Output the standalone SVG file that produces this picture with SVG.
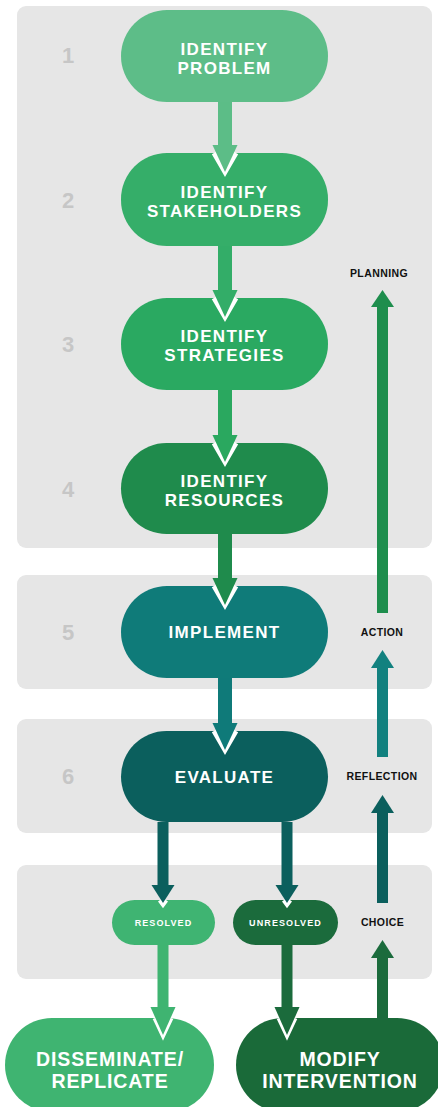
<svg xmlns="http://www.w3.org/2000/svg" width="438" height="1107" viewBox="0 0 438 1107">
<style>
.panel{fill:#e6e6e6}
.num{font-family:"Liberation Sans",Arial,sans-serif;font-weight:bold;font-size:22px;fill:#c6c6c6;text-anchor:middle}
.nt{font-family:"Liberation Sans",Arial,sans-serif;font-weight:bold;font-size:17px;fill:#fff;text-anchor:middle;letter-spacing:1.3px}
.bt{font-family:"Liberation Sans",Arial,sans-serif;font-weight:bold;font-size:19.5px;fill:#fff;text-anchor:middle;letter-spacing:0.9px}
.st{font-family:"Liberation Sans",Arial,sans-serif;font-weight:bold;font-size:9px;fill:#fff;text-anchor:middle;letter-spacing:1.1px}
.lab{font-family:"Liberation Sans",Arial,sans-serif;font-weight:bold;font-size:10.5px;fill:#111;text-anchor:middle;letter-spacing:0.4px}
.wo{fill:none;stroke:#fff;stroke-width:5;stroke-linejoin:miter}
</style>
<rect width="438" height="1107" fill="#fff"/>
<g id="panels">
<rect class="panel" x="17" y="6" width="415" height="542" rx="9"/>
<rect class="panel" x="17" y="575" width="415" height="114" rx="9"/>
<rect class="panel" x="17" y="719" width="415" height="114" rx="9"/>
<rect class="panel" x="17" y="865" width="415" height="114" rx="9"/>
</g>
<g id="numbers">
<text class="num" x="68" y="63">1</text>
<text class="num" x="68" y="208">2</text>
<text class="num" x="68" y="352">3</text>
<text class="num" x="68" y="497">4</text>
<text class="num" x="68" y="640">5</text>
<text class="num" x="68" y="784">6</text>
</g>
<g id="labels">
<text class="lab" x="379" y="277">PLANNING</text>
<text class="lab" x="382" y="636">ACTION</text>
<text class="lab" x="382" y="780">REFLECTION</text>
<text class="lab" x="382.5" y="926">CHOICE</text>
</g>
<g id="node-problem">
<rect x="121" y="10" width="207" height="92" rx="46" fill="#5dbd88"/>
<text class="nt" x="224.5" y="55">IDENTIFY</text>
<text class="nt" x="224.5" y="74">PROBLEM</text>
</g>
<g id="node-stakeholders">
<rect x="121" y="153" width="207" height="93" rx="46" fill="#35ae69"/>
<text class="nt" x="224.5" y="198">IDENTIFY</text>
<text class="nt" x="224.5" y="217">STAKEHOLDERS</text>
</g>
<g id="node-strategies">
<rect x="121" y="298" width="207" height="92" rx="46" fill="#2aa961"/>
<text class="nt" x="224.5" y="342">IDENTIFY</text>
<text class="nt" x="224.5" y="361">STRATEGIES</text>
</g>
<g id="node-resources">
<rect x="121" y="443" width="207" height="91" rx="45.5" fill="#1f8b4c"/>
<text class="nt" x="224.5" y="487">IDENTIFY</text>
<text class="nt" x="224.5" y="506">RESOURCES</text>
</g>
<g id="node-implement">
<rect x="121" y="586" width="207" height="92" rx="46" fill="#0f7b79"/>
<text class="nt" x="224.5" y="638">IMPLEMENT</text>
</g>
<g id="node-evaluate">
<rect x="121" y="731" width="207" height="91" rx="45.5" fill="#0b5f5d"/>
<text class="nt" x="224.5" y="783">EVALUATE</text>
</g>
<g id="node-resolved">
<rect x="112" y="900" width="103" height="45" rx="22.5" fill="#3fb472"/>
<text class="st" x="163.5" y="926">RESOLVED</text>
</g>
<g id="node-unresolved">
<rect x="233" y="900" width="105" height="45" rx="22.5" fill="#1b6b3c"/>
<text class="st" x="285.5" y="926">UNRESOLVED</text>
</g>
<g id="node-disseminate">
<rect x="5" y="1018" width="209" height="94" rx="47" fill="#3fb471"/>
<text class="bt" x="110" y="1066">DISSEMINATE/</text>
<text class="bt" x="110" y="1088">REPLICATE</text>
</g>
<g id="node-modify">
<rect x="236" y="1018" width="208" height="94" rx="47" fill="#1a6a39"/>
<text class="bt" x="340" y="1066">MODIFY</text>
<text class="bt" x="340" y="1088">INTERVENTION</text>
</g>
<g id="connectors">
<rect x="218" y="102" width="14" height="44" fill="#5cbd87"/>
<polyline class="wo" points="214,153 225,172 236,153"/>
<polygon points="212.5,145 237.5,145 225,172" fill="#5cbd87"/>
<rect x="218" y="246" width="14" height="45" fill="#33ad68"/>
<polyline class="wo" points="214,298 225,317 236,298"/>
<polygon points="212.5,290 237.5,290 225,317" fill="#33ad68"/>
<rect x="218" y="390" width="14" height="46" fill="#2aa85f"/>
<polyline class="wo" points="214,443 225,462 236,443"/>
<polygon points="212.5,435 237.5,435 225,462" fill="#2aa85f"/>
<rect x="218" y="534" width="14" height="45" fill="#1f8b4c"/>
<polyline class="wo" points="214,586 225,605 236,586"/>
<polygon points="212.5,578 237.5,578 225,605" fill="#1f8b4c"/>
<rect x="218" y="678" width="14" height="46" fill="#0f7a79"/>
<polyline class="wo" points="214,731 225,750 236,731"/>
<polygon points="212.5,723 237.5,723 225,750" fill="#0f7a79"/>
<rect x="157.5" y="822" width="11" height="65" fill="#0b5f5d"/>
<polyline class="wo" points="160,900 163,904 166,900"/>
<polygon points="151.5,885 174.5,885 163,903" fill="#0b5f5d"/>
<rect x="281.5" y="822" width="11" height="65" fill="#0b5f5d"/>
<polyline class="wo" points="284,900 287,904 290,900"/>
<polygon points="275.5,885 298.5,885 287,903" fill="#0b5f5d"/>
<rect x="157.5" y="945" width="11" height="64" fill="#3fb471"/>
<polyline class="wo" points="155,1018 163,1035 171,1018"/>
<polygon points="150.5,1007 175.5,1007 163,1035" fill="#3fb471"/>
<rect x="281.5" y="945" width="11" height="64" fill="#1b6b3c"/>
<polyline class="wo" points="279,1018 287,1035 295,1018"/>
<polygon points="274.5,1007 299.5,1007 287,1035" fill="#1b6b3c"/>
<rect x="377" y="956" width="11" height="64" fill="#1b6b3c"/>
<polygon points="371,958 394,958 382.5,940" fill="#1b6b3c"/>
<rect x="377" y="811" width="11" height="92" fill="#0b5f5d"/>
<polygon points="371,813 394,813 382.5,795" fill="#0b5f5d"/>
<rect x="377" y="666" width="11" height="91" fill="#12817f"/>
<polygon points="371,668 394,668 382.5,650" fill="#12817f"/>
<rect x="377" y="305" width="11" height="308" fill="#1e8e4d"/>
<polygon points="371,307 394,307 382.5,290" fill="#1e8e4d"/>
</g>
</svg>
